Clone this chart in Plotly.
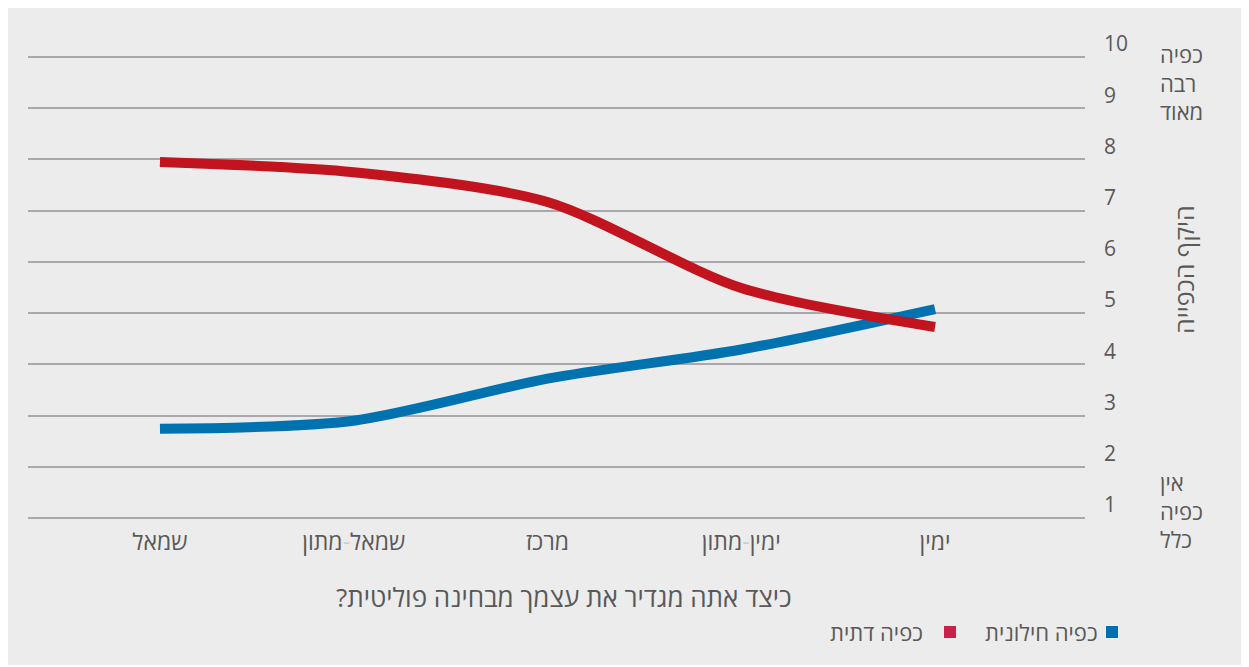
import plotly.graph_objects as go

categories = ["שמאל", "שמאל<span style='color:#cfcfcf'>-</span>מתון", "מרכז", "ימין<span style='color:#cfcfcf'>-</span>מתון", "ימין"]
secular = [2.74, 2.90, 3.72, 4.29, 5.08]
religious = [7.95, 7.75, 7.17, 5.49, 4.73]
y_ticks = [1, 2, 3, 4, 5, 6, 7, 8, 9, 10]
series_names = ["כפיה חילונית", "כפיה דתית"]
series_colors = ["#0072af", "#c2141e"]
legend_colors = ["#0070b0", "#c8224b"]

OFF = 8  # page body margin
W, H = 1241, 657
UNIT = (518 - 57) / 9.0
PAD = 2
L, R, T, B = 28 - OFF, 1085 - OFF, 57 - PAD - OFF, 518 + PAD - OFF
PW, PH = R - L, B - T


def px(x):
    return (x - OFF - L) / PW


def py(y):
    return (B - (y - OFF)) / PH


xs = list(range(len(categories)))
fig = go.Figure()
for name, vals, col in [(series_names[0], secular, series_colors[0]),
                        (series_names[1], religious, series_colors[1])]:
    fig.add_trace(go.Scatter(x=xs, y=vals, mode="lines", name=name,
                             line=dict(color=col, width=10, shape="spline", smoothing=0.8),
                             showlegend=False, hoverinfo="skip"))

text_col = "#595959"
font = "Open Sans, DejaVu Sans, sans-serif"

shapes = [
    dict(type="rect", xref="paper", yref="paper", x0=px(1106), x1=px(1118), y0=py(638), y1=py(626),
         fillcolor=legend_colors[0], line=dict(width=0)),
    dict(type="rect", xref="paper", yref="paper", x0=px(944), x1=px(956), y0=py(638), y1=py(626),
         fillcolor=legend_colors[1], line=dict(width=0)),
]

annotations = [
    dict(text="כיצד אתה מגדיר את עצמך מבחינה פוליטית?\u200f", x=px(564), y=py(597), xref="paper", yref="paper",
         showarrow=False, font=dict(size=26, color=text_col, family=font), xanchor="center", yanchor="middle"),
    dict(text=series_names[0], x=px(1100), y=py(632), xref="paper", yref="paper", showarrow=False,
         font=dict(size=22, color=text_col, family=font), xanchor="right", yanchor="middle"),
    dict(text=series_names[1], x=px(925), y=py(632), xref="paper", yref="paper", showarrow=False,
         font=dict(size=22, color=text_col, family=font), xanchor="right", yanchor="middle"),
    dict(text="כפיה<br>רבה<br>מאוד", x=px(1158), y=py(83), xref="paper", yref="paper", showarrow=False,
         font=dict(size=22, color=text_col, family=font), xanchor="left", yanchor="middle", align="left"),
    dict(text="אין<br>כפיה<br>כלל", x=px(1158), y=py(510), xref="paper", yref="paper", showarrow=False,
         font=dict(size=22, color=text_col, family=font), xanchor="left", yanchor="middle", align="left"),
    dict(text="היקף הכפייה", x=px(1184), y=py(270), xref="paper", yref="paper", showarrow=False,
         textangle=-90, font=dict(size=25, color=text_col, family=font), xanchor="center", yanchor="middle"),
]

fig.update_layout(
    width=W, height=H,
    margin=dict(l=L, r=W - R, t=T, b=H - B),
    paper_bgcolor="#ececec", plot_bgcolor="rgba(0,0,0,0)",
    font=dict(family=font, color=text_col),
    shapes=shapes, annotations=annotations,
    xaxis=dict(range=[-0.681, 4.774], tickvals=xs, ticktext=categories, showgrid=False,
               zeroline=False, showline=False, ticks="", tickfont=dict(size=23, color=text_col),
               ticklabelstandoff=6, fixedrange=True),
    yaxis=dict(range=[1 - PAD / UNIT, 10 + PAD / UNIT], side="right", tickvals=y_ticks,
               ticktext=[str(v) for v in y_ticks],
               showgrid=True, gridcolor="#a9a9ad", gridwidth=2, zeroline=False, showline=False,
               ticks="", tickfont=dict(size=21, color=text_col), ticklabelshift=-13,
               ticklabelstandoff=18, fixedrange=True),
    showlegend=False,
)

fig.write_html("out.html")
